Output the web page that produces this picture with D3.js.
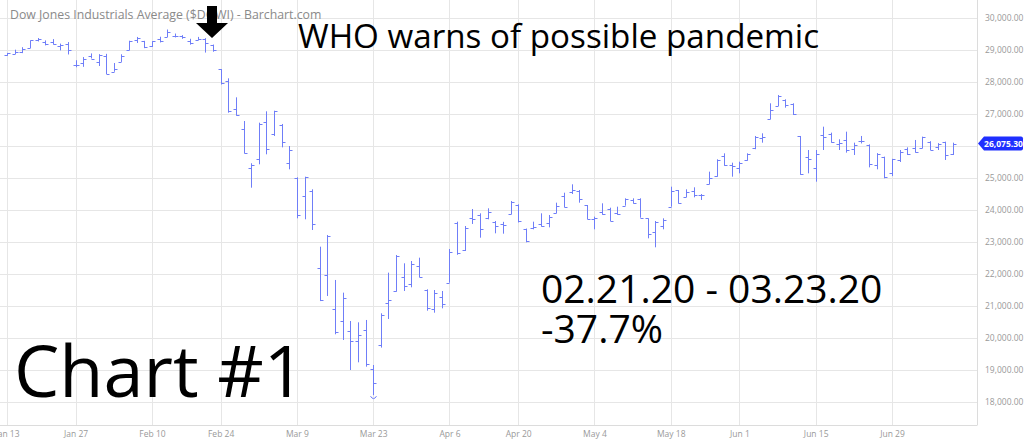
<!DOCTYPE html>
<html><head><meta charset="utf-8">
<script src="https://cdn.jsdelivr.net/npm/d3@7"></script>
<style>html,body{margin:0;padding:0;background:#fff;overflow:hidden}</style>
</head><body>
<svg id="chart" width="1024" height="443"></svg>
<script>
const dates = ["2020-01-13","2020-01-14","2020-01-15","2020-01-16","2020-01-17","2020-01-21","2020-01-22","2020-01-23","2020-01-24","2020-01-27","2020-01-28","2020-01-29","2020-01-30","2020-01-31",
"2020-02-03","2020-02-04","2020-02-05","2020-02-06","2020-02-07","2020-02-10","2020-02-11","2020-02-12","2020-02-13","2020-02-14","2020-02-18","2020-02-19","2020-02-20","2020-02-21","2020-02-24","2020-02-25","2020-02-26","2020-02-27","2020-02-28",
"2020-03-02","2020-03-03","2020-03-04","2020-03-05","2020-03-06","2020-03-09","2020-03-10","2020-03-11","2020-03-12","2020-03-13","2020-03-16","2020-03-17","2020-03-18","2020-03-19","2020-03-20","2020-03-23","2020-03-24","2020-03-25","2020-03-26","2020-03-27","2020-03-30","2020-03-31",
"2020-04-01","2020-04-02","2020-04-03","2020-04-06","2020-04-07","2020-04-08","2020-04-09","2020-04-13","2020-04-14","2020-04-15","2020-04-16","2020-04-17","2020-04-20","2020-04-21","2020-04-22","2020-04-23","2020-04-24","2020-04-27","2020-04-28","2020-04-29","2020-04-30",
"2020-05-01","2020-05-04","2020-05-05","2020-05-06","2020-05-07","2020-05-08","2020-05-11","2020-05-12","2020-05-13","2020-05-14","2020-05-15","2020-05-18","2020-05-19","2020-05-20","2020-05-21","2020-05-22","2020-05-26","2020-05-27","2020-05-28","2020-05-29",
"2020-06-01","2020-06-02","2020-06-03","2020-06-04","2020-06-05","2020-06-08","2020-06-09","2020-06-10","2020-06-11","2020-06-12","2020-06-15","2020-06-16","2020-06-17","2020-06-18","2020-06-19","2020-06-22","2020-06-23","2020-06-24","2020-06-25","2020-06-26","2020-06-29","2020-06-30",
"2020-07-01","2020-07-02","2020-07-06","2020-07-07","2020-07-08","2020-07-09","2020-07-10"];

const openV = [28850,28884,28940,29060,29314,29244,29264,29124,29194,28541,28594,28820,28640,28814,
28320,28627,28992,29320,29286,29130,29343,29405,29433,29447,29280,29306,29333,29170,28403,28041,27168,26526,25320,
25591,26762,26383,26671,25457,25002,24453,24604,22184,21974,20917,20526,20226,19900,20253,19028,19780,21084,21468,21898,21678,22257,
21500,20900,21285,21729,23584,22750,23740,23850,23740,23620,23560,23865,24150,23396,23450,23560,23600,23896,24450,24560,24600,
24150,23709,23950,24040,23900,24135,24300,24340,23740,23300,23500,24104,24610,24400,24580,24480,24820,25060,25700,25400,
25300,25563,25930,26250,26850,27250,27430,27300,26313,25667,25303,26344,26380,26050,26200,25900,26150,26031,25406,25667,25150,25563,
25900,25927,25927,26135,25960,26135,25750];

const highV = [28909,29010,29087,29300,29374,29300,29340,29200,29248,28680,28779,28893,28870,28880,
28593,28866,29290,29408,29286,29277,29415,29640,29514,29464,29351,29409,29370,29170,28403,28115,27521,26781,25460,
26729,27084,27104,26688,26000,25021,25041,24646,22854,23219,21813,21417,20531,20490,20563,19156,20771,22042,22594,22334,22406,22510,
21521,21500,21469,22781,23635,23500,24031,23896,24053,23656,23630,24281,24178,23420,23635,23896,23844,24229,24541,24803,24625,
24156,23792,24209,24072,24104,24365,24365,24365,23740,23656,23740,24729,24625,24646,24709,24500,25198,25584,25771,25479,
25510,25771,26313,26396,27334,27594,27459,27334,26313,25875,25875,26604,26417,26209,26448,26104,26313,26050,25778,25667,25600,25875,
25958,26188,26292,26150,26090,26135,26104];

const lowV = [28819,28873,28902,29060,29267,29144,29170,28988,28860,28460,28474,28735,28500,28250,
28320,28627,28992,29220,29058,29094,29236,29405,29393,29350,29167,29306,28919,28946,27921,27041,26947,25767,24697,
25428,25740,26313,25958,25271,23740,23709,23375,21154,21313,20116,19938,19000,19240,19104,18214,19700,20594,21447,21469,21584,21896,
20854,20791,20927,21729,22600,22719,23563,23135,23709,23271,23260,23865,23610,22990,23396,23480,23458,23896,24083,24500,24229,
23709,23396,23850,23650,23850,24135,24200,23760,23115,22834,23396,24104,24200,24400,24396,24313,24803,25041,25380,25041,
25146,25540,25900,26104,26834,27250,27198,26969,25100,25146,24885,25875,26104,25875,25792,25719,26080,25333,25271,24990,25060,25500,
25719,25792,25927,25870,25875,25563,25719];

const closeV = [28907,28940,29030,29298,29348,29196,29186,29160,28990,28536,28723,28734,28859,28256,
28400,28808,29291,29380,29103,29277,29276,29551,29423,29398,29232,29348,29220,28992,27961,27081,26958,25767,25409,
26703,25917,27091,26121,25865,23851,25018,23553,21201,23186,20189,21237,19899,20087,19174,18592,20705,21200,22552,21637,22327,21917,
20944,21413,21053,22680,22654,23434,23719,23391,23950,23504,23538,24242,23650,23019,23476,23515,23775,24134,24102,24634,24346,
23724,23750,23883,23665,23876,24331,24222,23765,23248,23625,23685,24597,24207,24576,24474,24465,24995,25548,25401,25383,
25475,25743,26270,26282,27111,27572,27272,26990,25128,25606,25763,26290,26120,26080,25871,26025,26156,25446,25746,25016,25596,25813,
25735,25827,26287,25890,26067,25706,26075.30];

const tickDates = ["2020-01-13","2020-01-27","2020-02-10","2020-02-24","2020-03-09","2020-03-23","2020-04-06","2020-04-20","2020-05-04","2020-05-18","2020-06-01","2020-06-15","2020-06-29"];
const tickLabels = ["Jan 13","Jan 27","Feb 10","Feb 24","Mar 9","Mar 23","Apr 6","Apr 20","May 4","May 18","Jun 1","Jun 15","Jun 29"];
const yGrid = [18000,19000,20000,21000,22000,23000,24000,25000,26000,27000,28000,29000,30000];
const yLabels = [18000,19000,20000,21000,22000,23000,24000,25000,27000,28000,29000,30000];

const title = "Dow Jones Industrials Average ($DOWI) - Barchart.com";
const headline = "WHO warns of possible pandemic";
const rangeText = "02.21.20 - 03.23.20";
const pctText = "-37.7%";
const chartLabel = "Chart #1";
const lastLabel = "26,075.30";

const svg = d3.select("#chart");
const plotRight = 977, plotBottom = 425;
const x = d3.scalePoint().domain(dates).range([7, 953]);
const y = d3.scaleLinear().domain([18000, 30000]).range([402, 18]);
const fmt = d3.format(",.2f");

// gridlines
const g = svg.append("g");
g.selectAll("line.h").data(yGrid).join("line")
  .attr("x1", 0).attr("x2", plotRight)
  .attr("y1", d => Math.round(y(d)) + 0.5).attr("y2", d => Math.round(y(d)) + 0.5)
  .attr("stroke", "#e6e6e6").attr("stroke-width", 1);
g.selectAll("line.v").data(tickDates).join("line")
  .attr("x1", d => Math.round(x(d)) + 0.5).attr("x2", d => Math.round(x(d)) + 0.5)
  .attr("y1", 0).attr("y2", plotBottom)
  .attr("stroke", "#e6e6e6").attr("stroke-width", 1);
g.append("line").attr("x1", plotRight + 0.5).attr("x2", plotRight + 0.5).attr("y1", 0).attr("y2", plotBottom)
  .attr("stroke", "#dcdcdc");
g.append("line").attr("x1", 0).attr("x2", plotRight + 0.5).attr("y1", plotBottom + 0.5).attr("y2", plotBottom + 0.5)
  .attr("stroke", "#dcdcdc");

// axes labels
const yAxis = d3.axisRight(y).tickValues(yLabels).tickFormat(fmt).tickSize(0).tickPadding(0);
const ya = svg.append("g").attr("transform", `translate(985,0)`).call(yAxis);
ya.select(".domain").remove();
ya.selectAll("text").attr("font-family", "Open Sans").attr("font-size", 8.5).attr("fill", "#999");

const xAxis = d3.axisBottom(x).tickValues(tickDates).tickFormat((d, i) => tickLabels[i]).tickSize(0).tickPadding(0);
const xa = svg.append("g").attr("transform", `translate(0,${plotBottom + 6})`).call(xAxis);
xa.select(".domain").remove();
xa.selectAll("text").attr("font-family", "Open Sans").attr("font-size", 8.5).attr("fill", "#999");

// OHLC bars
const bars = svg.append("g").attr("stroke", "#6f7ef8").attr("stroke-width", 1).attr("fill", "none");
dates.forEach((d, i) => {
  const cx = Math.round(x(d)) + 0.5;
  bars.append("line").attr("x1", cx).attr("x2", cx).attr("y1", y(highV[i])).attr("y2", y(lowV[i]));
  bars.append("line").attr("x1", cx - 3).attr("x2", cx).attr("y1", Math.round(y(openV[i])) + 0.5).attr("y2", Math.round(y(openV[i])) + 0.5);
  bars.append("line").attr("x1", cx).attr("x2", cx + 3).attr("y1", Math.round(y(closeV[i])) + 0.5).attr("y2", Math.round(y(closeV[i])) + 0.5);
});
// low marker
const minI = d3.minIndex(lowV);
const mx = Math.round(x(dates[minI])) + 0.5, my = y(lowV[minI]);
bars.append("path").attr("d", `M${mx - 3},${my + 1} Q${mx},${my + 6} ${mx + 3},${my + 1}`);

// title
svg.append("text").attr("x", 10).attr("y", 19).text(title)
  .attr("font-family", "Open Sans").attr("font-size", 12.3).attr("fill", "#8a8a8a");

// arrow
const ax = 212;
svg.append("path").attr("d", `M${ax - 5},6 L${ax + 5},6 L${ax + 5},23 L${ax + 16},23 L${ax},38 L${ax - 16},23 L${ax - 5},23 Z`).attr("fill", "#000");

// price label
const ly = y(closeV[closeV.length - 1]);
const lab = svg.append("g");
lab.append("path").attr("d", `M978,${ly} L984,${ly - 7} L1021,${ly - 7} Q1023,${ly - 7} 1023,${ly - 5} L1023,${ly + 5} Q1023,${ly + 7} 1021,${ly + 7} L984,${ly + 7} Z`).attr("fill", "#1f2fff");
lab.append("text").attr("x", 1003.5).attr("y", ly + 3).attr("text-anchor", "middle").text(lastLabel)
  .attr("font-family", "Open Sans").attr("font-weight", "bold").attr("font-size", 8.5).attr("fill", "#fff");

// annotations
function bigText(txt, x0, yb, size) {
  return svg.append("text").attr("x", x0).attr("y", yb).text(txt)
    .attr("font-family", "Open Sans").attr("font-size", size).attr("fill", "#000");
}
bigText(headline, 298, 48, 33.2);
bigText(rangeText, 541, 303, 39);
bigText(pctText, 541, 343, 39);
bigText(chartLabel, 14, 397, 72);
</script>
</body></html>
